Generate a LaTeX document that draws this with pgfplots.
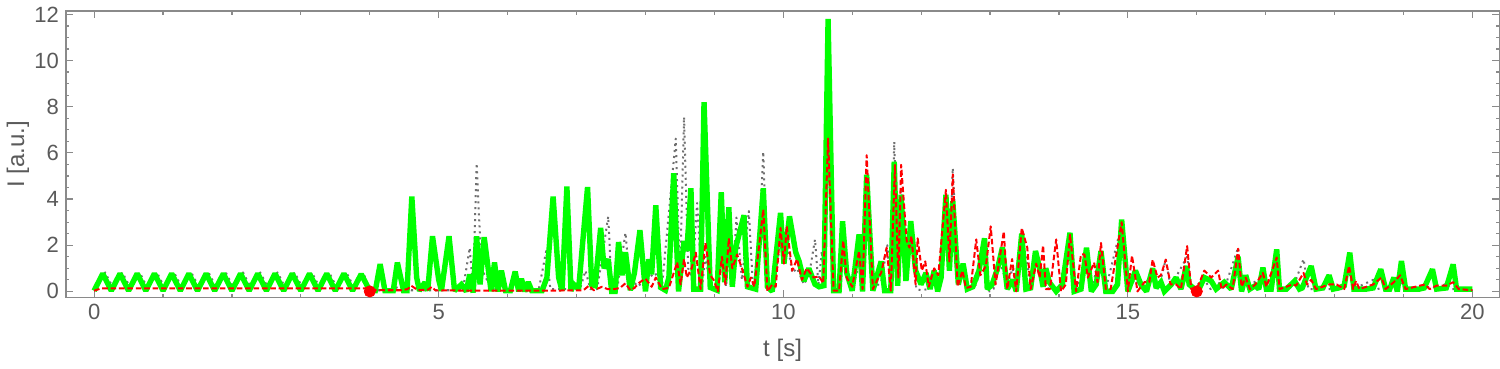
\documentclass[border=0pt]{standalone}
\usepackage{fontspec}
\setmainfont{Liberation Sans}
\usepackage{pgfplots}
\pgfplotsset{compat=1.18}
\definecolor{lgreen}{HTML}{00FF00}
\definecolor{lred}{HTML}{FF0000}
\definecolor{lgray}{HTML}{707070}
\definecolor{framecol}{HTML}{8A8A8A}
\definecolor{textcol}{HTML}{5A5A5A}

\begin{document}
\begin{tikzpicture}
\begin{axis}[scale only axis, width=716pt, height=143pt,
  xmin=-0.41, xmax=20.39, ymin=-0.26, ymax=12.14,
  xtick={0,5,...,20}, minor x tick num=4,
  ytick={0,2,...,12}, minor y tick num=3,
  tick align=inside, major tick length=3.5pt, minor tick length=1.8pt,
  axis line style={framecol, line width=0.7pt},
  every tick/.style={framecol, line width=0.6pt},
  /pgf/number format/assume math mode=true,
  tick label style={font=\fontsize{11}{11}\selectfont, text=textcol},
  label style={font=\fontsize{12}{12}\selectfont, text=textcol},
  xlabel={t [s]}, ylabel={I [a.u.]},
  xlabel style={at={(axis description cs:0.5,-0.185)}, anchor=center},
  ylabel style={at={(axis description cs:-0.0335,0.5)}, anchor=center},
  clip=true]
% gray dotted
\addplot[lgray, dotted, line width=1pt, line join=round] coordinates {
(0,0.12)(0.16,0.82)(0.28,0.12)(0.41,0.82)(0.53,0.12)(0.66,0.82)(0.78,0.12)(0.91,0.82)(1.03,0.12)(1.16,0.82)(1.28,0.12)(1.41,0.82)(1.53,0.12)(1.66,0.82)(1.78,0.12)(1.91,0.82)(2.03,0.12)(2.16,0.82)(2.28,0.12)(2.41,0.82)(2.53,0.12)(2.66,0.82)(2.78,0.12)(2.91,0.82)(3.03,0.12)(3.16,0.82)(3.28,0.12)(3.41,0.82)(3.53,0.12)(3.66,0.82)(3.78,0.12)(3.91,0.78)(4.0,0.05)
(4.3,0.05)(4.49,0.3)(4.6,0.05)(5.35,0.05)(5.45,1.89)(5.50,0.1)(5.55,5.55)(5.62,1.0)(5.70,0.5)(5.80,0.1)(6.45,0.05)(6.56,1.75)(6.62,0.1)(7.05,0.1)(7.13,0.9)(7.2,0.1)(7.3,0.1)(7.46,3.25)(7.51,0.1)(7.6,0.3)(7.71,2.54)(7.78,0.1)(7.88,0.4)(7.95,0.2)(8.05,0.6)(8.14,0.8)(8.24,0.2)(8.44,6.62)(8.50,0.5)(8.56,7.55)(8.62,1.0)(8.68,0.6)(8.75,3.83)(8.82,0.2)(8.87,1.5)(8.94,0.3)(9.04,0.1)(9.11,1.2)(9.17,0.2)(9.21,1.8)(9.27,0.5)(9.32,3.2)(9.40,0.5)(9.50,3.48)(9.56,0.2)(9.62,0.3)(9.71,6.05)(9.77,0.1)(9.86,0.1)(9.96,2.2)(10.05,2.3)(10.13,0.8)(10.20,1.0)(10.30,0.3)(10.38,0.8)(10.46,2.25)(10.51,0.3)(10.56,1.75)(10.60,0.3)(10.65,6.2)(10.73,0.05)(10.81,0.1)(10.87,1.5)(10.93,0.5)(11.02,0.3)(11.10,1.2)(11.16,0.1)(11.21,4.8)(11.30,0.1)(11.42,0.4)(11.51,2.0)(11.56,0.1)(11.61,6.48)(11.67,0.3)(11.71,4.5)(11.79,1.5)(11.86,2.5)(11.93,0.1)(12.0,0.05)(12.1,0.1)(12.2,0.3)(12.28,0.2)(12.36,4.0)(12.41,1.0)(12.46,5.34)(12.54,0.2)(12.61,0.8)(12.70,0.1)(12.80,0.3)(12.92,1.8)(12.99,0.0)(13.05,0.1)(13.15,1.2)(13.25,0.3)(13.33,1.0)(13.38,0.1)(13.46,2.3)(13.54,1.2)(13.59,0.3)(13.67,1.2)(13.77,1.0)(13.85,0.1)(14.0,0.2)(14.16,2.2)(14.25,0.1)(14.40,1.2)(14.47,0.1)(14.61,1.6)(14.68,0.1)(14.91,2.9)(15.0,0.1)(15.1,0.5)(15.2,0.1)(15.36,0.8)(15.45,0.2)(15.55,1.38)(15.62,0.2)(15.86,1.5)(15.92,0.1)(16.11,0.5)(16.2,0.1)(16.31,0.4)(16.40,0.1)(16.60,1.9)(16.65,0.1)(16.96,0.6)(17.01,0.1)(17.16,1.3)(17.20,0.1)(17.40,0.2)(17.55,1.4)(17.62,0.1)(18.1,0.1)(18.21,0.9)(18.27,0.1)(18.56,0.5)(18.62,0.1)(18.86,0.3)(18.95,0.4)(19.03,0.1)(19.42,0.2)(19.5,0.1)(19.62,0.35)(19.70,0.1)(20.0,0.05)
};
% green thick
\addplot[lgreen, line width=2.7pt, line join=miter, miter limit=2] coordinates {
(0,0.03)(0.125,0.77)(0.25,0.03)(0.375,0.77)(0.5,0.03)(0.625,0.77)(0.75,0.03)(0.875,0.77)(1,0.03)(1.125,0.77)(1.25,0.03)(1.375,0.77)(1.5,0.03)(1.625,0.77)(1.75,0.03)(1.875,0.77)(2,0.03)(2.125,0.77)(2.25,0.03)(2.375,0.77)(2.5,0.03)(2.625,0.77)(2.75,0.03)(2.875,0.77)(3,0.03)(3.125,0.77)(3.25,0.03)(3.375,0.77)(3.5,0.03)(3.625,0.77)(3.75,0.03)(3.875,0.75)(4,0.03)
(4.08,0.03)(4.15,1.18)(4.22,0.03)(4.34,0.03)(4.40,1.25)(4.49,0.03)(4.54,0.03)(4.61,4.11)(4.68,0.6)(4.72,0.03)(4.80,0.39)(4.84,0.03)(4.91,2.39)(5.0,0.5)(5.04,0.03)(5.15,2.39)(5.23,0.03)(5.33,0.3)(5.40,0.0)(5.45,0.74)(5.50,-0.05)(5.55,2.39)(5.60,0.3)(5.66,2.35)(5.76,0.0)(5.81,1.25)(5.86,0.0)(5.91,0.9)(5.97,0.03)(6.04,0.03)(6.11,0.86)(6.16,0.0)(6.20,0.55)(6.25,0.0)(6.30,0.4)(6.35,0.03)(6.50,0.03)(6.57,0.6)(6.66,4.11)(6.74,0.6)(6.79,0.03)(6.86,4.54)(6.92,0.03)(6.96,0.3)(7.03,0.1)(7.16,4.52)(7.22,0.3)(7.27,0.25)(7.35,2.75)(7.40,1.0)(7.46,1.4)(7.51,0.0)(7.56,0.0)(7.61,2.14)(7.66,0.7)(7.71,1.7)(7.78,0.05)(7.84,0.8)(7.92,2.65)(8.0,0.0)(8.05,1.39)(8.09,0.74)(8.15,3.73)(8.22,0.17)(8.29,0.05)(8.34,0.6)(8.41,5.12)(8.48,0.0)(8.56,2.18)(8.60,1.75)(8.66,4.47)(8.70,0.1)(8.80,0.1)(8.85,8.2)(8.94,0.17)(9.04,0.05)(9.10,4.3)(9.15,0.4)(9.21,3.64)(9.26,0.2)(9.31,1.9)(9.43,3.3)(9.48,0.2)(9.60,0.1)(9.71,4.47)(9.77,0.2)(9.84,0.0)(9.96,3.4)(10.01,1.2)(10.09,3.25)(10.18,1.7)(10.23,1.3)(10.30,0.45)(10.37,1.0)(10.46,0.31)(10.52,0.2)(10.59,0.25)(10.65,11.8)(10.73,0.03)(10.81,0.03)(10.86,3.04)(10.92,0.8)(11.0,0.03)(11.10,2.47)(11.15,0.0)(11.21,5.05)(11.30,0.03)(11.42,1.3)(11.47,0.03)(11.56,0.03)(11.61,5.62)(11.66,0.24)(11.71,4.19)(11.78,0.45)(11.85,3.04)(11.92,0.9)(12.0,0.3)(12.07,0.8)(12.13,0.1)(12.19,0.9)(12.24,0.0)(12.29,0.6)(12.36,4.19)(12.41,0.9)(12.46,3.9)(12.54,0.3)(12.61,1.2)(12.67,0.1)(12.75,0.2)(12.84,0.9)(12.92,2.3)(12.96,0.1)(13.03,0.3)(13.11,1.0)(13.18,1.9)(13.25,0.1)(13.33,0.5)(13.38,0.0)(13.46,2.5)(13.52,0.1)(13.59,0.15)(13.66,1.75)(13.72,1.0)(13.77,0.2)(13.81,1.0)(13.86,0.4)(13.96,0.0)(14.05,0.3)(14.16,2.54)(14.22,0.0)(14.32,0.1)(14.40,1.89)(14.47,0.0)(14.54,0.3)(14.61,1.75)(14.68,0.0)(14.78,0.0)(14.85,0.3)(14.91,3.11)(15.0,0.0)(15.11,0.9)(15.19,0.3)(15.27,0.0)(15.36,1.0)(15.41,0.15)(15.48,0.4)(15.53,0.0)(15.58,0.15)(15.63,0.3)(15.70,0.6)(15.77,0.1)(15.85,1.1)(15.89,0.3)(15.97,0.1)(16.04,0.15)(16.11,0.6)(16.21,0.45)(16.28,0.1)(16.40,0.4)(16.50,0.1)(16.60,1.5)(16.65,0.0)(16.71,0.7)(16.77,0.1)(16.85,0.25)(16.90,0.1)(16.96,1.03)(17.01,0.1)(17.08,0.1)(17.16,1.82)(17.20,0.1)(17.30,0.1)(17.42,0.45)(17.49,0.1)(17.53,0.15)(17.66,1.1)(17.73,0.1)(17.83,0.15)(17.92,0.7)(17.98,0.1)(18.06,0.15)(18.14,0.25)(18.22,1.68)(18.28,0.1)(18.37,0.1)(18.46,0.1)(18.56,0.15)(18.67,0.96)(18.74,0.1)(18.80,0.1)(18.86,0.6)(18.91,0.0)(18.97,1.32)(19.03,0.1)(19.23,0.1)(19.30,0.15)(19.42,0.96)(19.48,0.1)(19.62,0.15)(19.72,1.17)(19.77,0.1)(20.0,0.1)
};
% red dashed
\addplot[lred, dash pattern=on 2.8pt off 1.4pt, line width=1pt, line join=round] coordinates {
(0,0.03)(0.1,0.13)(3.95,0.13)(4.0,0.07)(4.2,0.05)(4.45,0.05)(4.55,0.1)(4.6,0.25)(4.7,0.05)(4.85,0.08)(4.9,0.2)(4.95,0.05)(5.5,0.03)(6.0,0.03)(6.5,0.03)(7.1,0.05)(7.18,0.25)(7.25,0.05)(7.37,0.2)(7.45,0.1)(7.55,0.1)(7.63,0.15)(7.71,0.35)(7.78,0.05)(7.84,0.15)(7.92,0.4)(8.0,0.55)(8.09,0.2)(8.15,0.6)(8.24,0.1)(8.34,0.15)(8.46,1.26)(8.51,0.3)(8.56,1.4)(8.60,0.6)(8.67,1.0)(8.73,1.68)(8.80,0.1)(8.87,2.1)(8.94,0.7)(8.99,0.5)(9.05,0.0)(9.11,1.5)(9.16,0.3)(9.21,2.3)(9.26,1.0)(9.33,1.6)(9.40,1.0)(9.48,0.2)(9.53,0.6)(9.58,0.2)(9.71,3.55)(9.77,0.0)(9.84,0.3)(9.89,0.2)(9.96,2.75)(10.01,1.2)(10.05,2.82)(10.13,0.9)(10.20,1.4)(10.27,0.5)(10.34,1.0)(10.44,0.6)(10.52,0.65)(10.58,0.35)(10.65,6.62)(10.73,0.03)(10.81,0.03)(10.87,2.2)(10.92,0.6)(11.0,0.2)(11.10,1.75)(11.15,0.1)(11.21,5.9)(11.30,0.1)(11.38,0.6)(11.42,0.8)(11.50,1.9)(11.56,0.03)(11.62,5.48)(11.67,0.6)(11.71,5.48)(11.79,2.2)(11.83,1.9)(11.86,2.4)(11.92,0.3)(11.95,2.3)(12.01,0.9)(12.06,1.3)(12.11,0.2)(12.19,1.0)(12.25,0.7)(12.36,4.4)(12.41,1.3)(12.46,5.07)(12.53,0.2)(12.60,0.9)(12.65,0.15)(12.72,0.2)(12.80,2.25)(12.86,0.7)(12.94,1.1)(13.01,2.82)(13.08,0.3)(13.20,2.6)(13.25,0.1)(13.32,1.4)(13.38,0.0)(13.46,2.75)(13.54,1.9)(13.59,0.1)(13.67,1.2)(13.72,0.6)(13.77,2.0)(13.81,0.1)(13.87,0.1)(13.96,2.25)(14.03,0.0)(14.10,0.3)(14.16,2.46)(14.25,0.0)(14.32,1.6)(14.37,1.6)(14.42,0.6)(14.51,1.25)(14.56,0.4)(14.61,2.1)(14.68,0.1)(14.75,0.1)(14.91,3.0)(15.0,0.0)(15.06,1.55)(15.14,0.0)(15.24,0.4)(15.31,0.4)(15.36,1.38)(15.43,0.6)(15.48,0.7)(15.55,1.38)(15.62,0.3)(15.70,0.3)(15.77,0.1)(15.86,1.96)(15.92,0.1)(16.0,0.1)(16.11,0.9)(16.21,0.6)(16.31,0.9)(16.36,0.1)(16.43,0.3)(16.52,0.1)(16.60,1.85)(16.65,0.2)(16.71,0.6)(16.77,0.1)(16.85,0.3)(16.96,0.8)(17.01,0.2)(17.16,1.47)(17.20,0.1)(17.39,0.3)(17.44,0.25)(17.55,0.8)(17.60,0.3)(17.66,0.5)(17.73,0.1)(17.92,0.3)(18.03,0.3)(18.14,0.1)(18.21,1.1)(18.27,0.1)(18.31,0.45)(18.36,0.1)(18.56,0.3)(18.68,0.6)(18.74,0.1)(18.86,0.4)(18.95,0.7)(19.03,0.1)(19.31,0.3)(19.38,0.1)(19.48,0.25)(19.62,0.25)(19.72,0.4)(19.80,0.1)(20.0,0.05)
};
% markers
\addplot[only marks, mark=*, mark size=2.8pt, lred, mark options={fill=lred, draw=lred}] coordinates {(4,0)(16,0)};
\end{axis}
\end{tikzpicture}
\end{document}
